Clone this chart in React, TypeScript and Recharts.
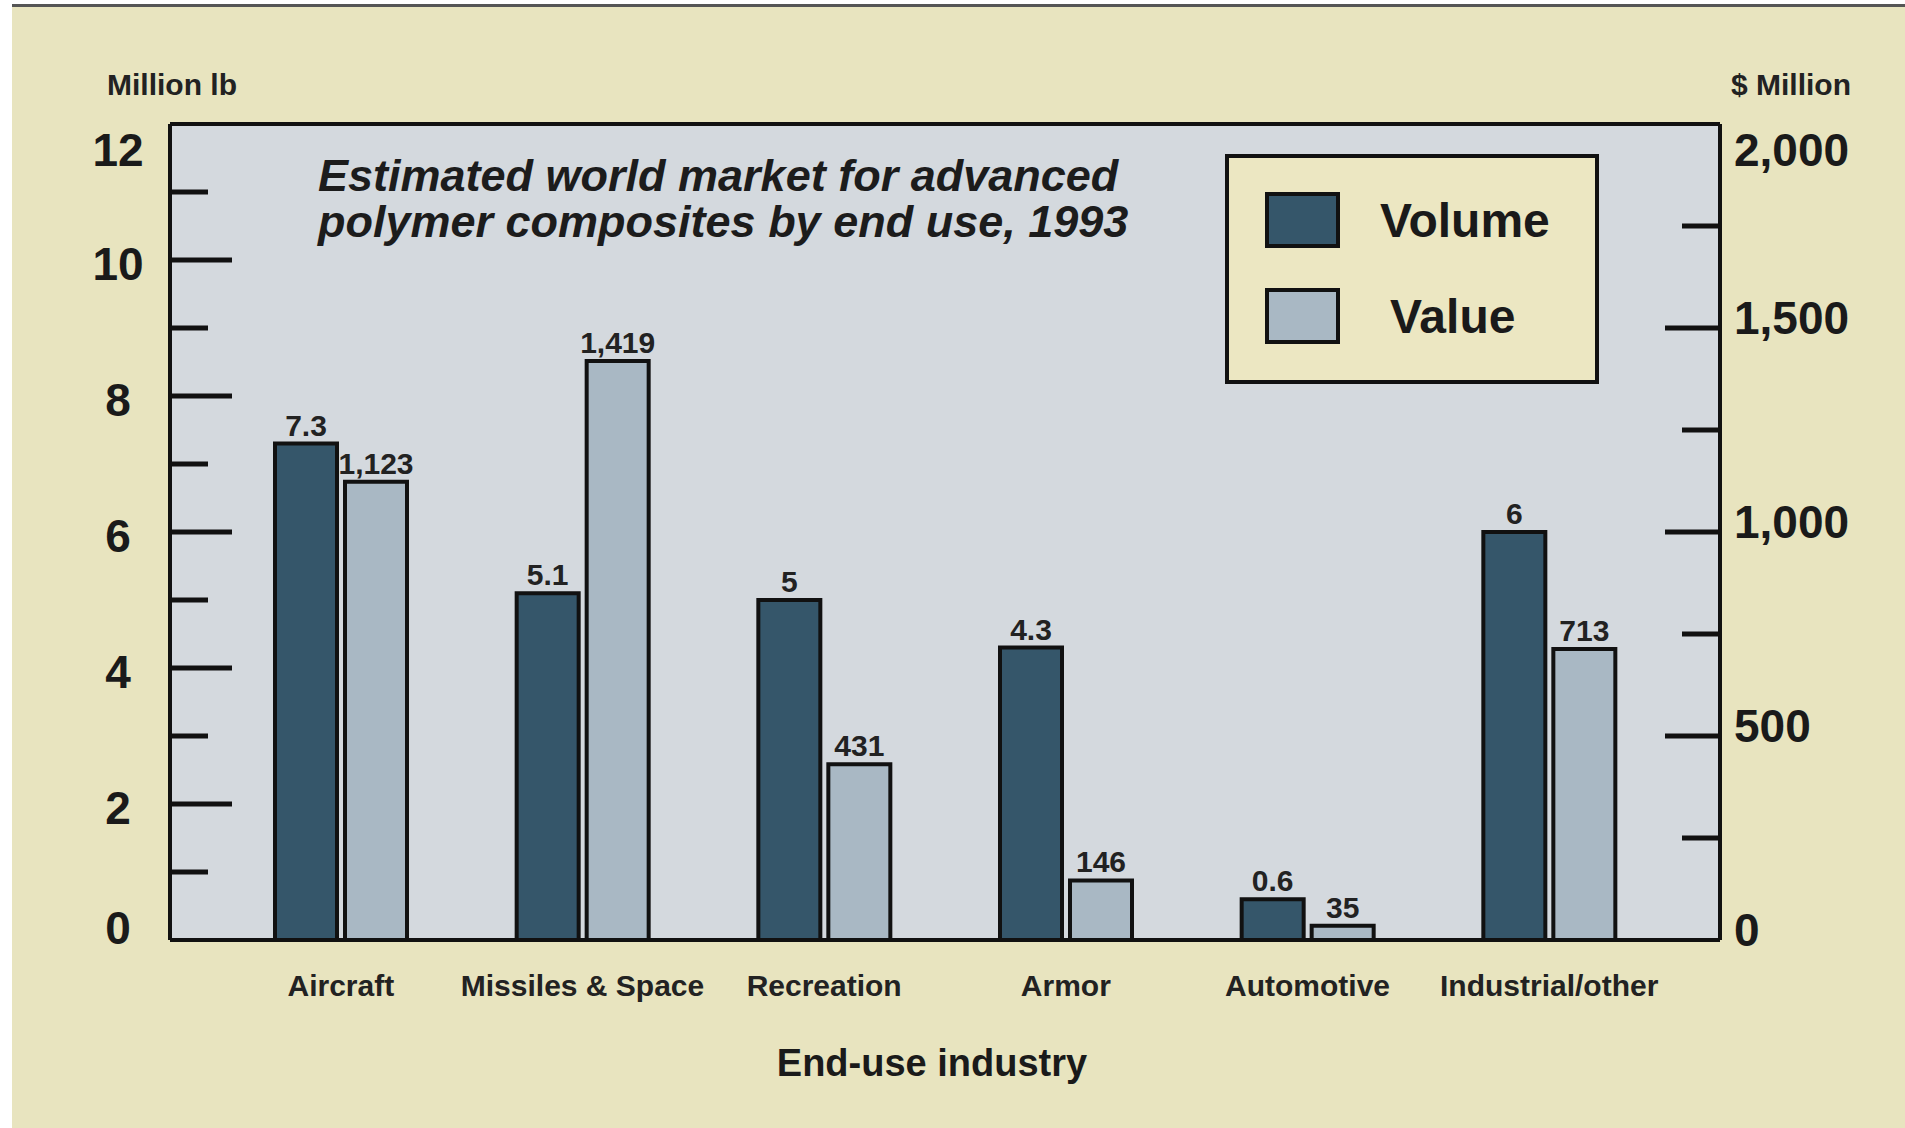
import React from 'react';
import { BarChart, Bar, XAxis, YAxis, CartesianGrid, Legend, LabelList } from 'recharts';

const categories = ['Aircraft', 'Missiles & Space', 'Recreation', 'Armor', 'Automotive', 'Industrial/other'];
const volume = [7.3, 5.1, 5, 4.3, 0.6, 6];
const value = [1123, 1419, 431, 146, 35, 713];
const leftTicks = [0, 1, 2, 3, 4, 5, 6, 7, 8, 9, 10, 11, 12];
const rightTicks = [0, 250, 500, 750, 1000, 1250, 1500, 1750, 2000];
const legendOrder = ['Volume', 'Value'];

const DARK = '#35566a';
const LIGHT = '#a9b8c4';
const PLOT_BG = '#d4d9de';
const CREAM = '#e8e4bf';
const FONT = '"Liberation Sans", Arial, sans-serif';

const data = categories.map((name, i) => ({ name, Volume: volume[i], Value: value[i] }));

const fmt = (v: any) => Number(v).toLocaleString('en-US');

const LeftTick = (props: any) => {
  const { x, y, payload } = props;
  const v = payload.value;
  const major = v % 2 === 0;
  const edge = v === 0 || v === 12;
  let dy = 4;
  if (v === 12) dy = 26;
  if (v === 0) dy = -12;
  return (
    <g>
      {!edge && <line x1={x} x2={x + (major ? 62 : 38)} y1={y} y2={y} stroke="#111" strokeWidth={5} />}
      {major && (
        <text x={x - 52} y={y + dy} textAnchor="middle" dominantBaseline="central"
          fontFamily={FONT} fontWeight="bold" fontSize={46} fill="#1a1a1a">{v}</text>
      )}
    </g>
  );
};

const RightTick = (props: any) => {
  const { x, y, payload } = props;
  const v = payload.value;
  const major = v % 500 === 0;
  const edge = v === 0 || v === 2000;
  let dy = -10;
  if (v === 2000) dy = 26;
  return (
    <g>
      {!edge && <line x1={x} x2={x - (major ? 55 : 38)} y1={y} y2={y} stroke="#111" strokeWidth={5} />}
      {major && (
        <text x={x + 14} y={y + dy} textAnchor="start" dominantBaseline="central"
          fontFamily={FONT} fontWeight="bold" fontSize={46} fill="#1a1a1a">{fmt(v)}</text>
      )}
    </g>
  );
};

const LegendBox = (props: any) => {
  const items = [...(props.payload || [])].sort(
    (a: any, b: any) => legendOrder.indexOf(a.value) - legendOrder.indexOf(b.value)
  );
  return (
    <div style={{ width: 374, height: 230, background: '#ece7c2', border: '4px solid #111', boxSizing: 'border-box', paddingTop: 34, paddingLeft: 36 }}>
      {items.map((it: any, i: number) => (
        <div key={it.value} style={{ display: 'flex', alignItems: 'center', height: 56, marginBottom: i === 0 ? 40 : 0 }}>
          <div style={{ width: 75, height: 56, background: it.color, border: '4px solid #111', boxSizing: 'border-box' }} />
          <span style={{ marginLeft: it.value === 'Value' ? 50 : 40, fontFamily: FONT, fontSize: 48, fontWeight: 'bold', color: '#1a1a1a' }}>{it.value}</span>
        </div>
      ))}
    </div>
  );
};

export default function App() {
  return (
    <div style={{ position: 'absolute', left: 0, top: 0, width: 1905, height: 1128, background: '#fff', overflow: 'hidden' }}>
      <div style={{ position: 'absolute', left: 12, top: 4, width: 1893, height: 1124, background: CREAM, borderTop: '3px solid #555' }} />
      <div style={{ position: 'absolute', left: 107, top: 68, fontFamily: FONT, fontWeight: 'bold', fontSize: 30, color: '#222' }}>Million lb</div>
      <div style={{ position: 'absolute', left: 1731, top: 68, fontFamily: FONT, fontWeight: 'bold', fontSize: 30, color: '#222' }}>$ Million</div>
      <div style={{ position: 'absolute', left: 0, top: 0 }}>
        <BarChart
          width={1905}
          height={1128}
          data={data}
          margin={{ top: 123, right: 10, bottom: 52, left: 10 }}
          barSize={62}
          barGap={8}
          barCategoryGap={0}
        >
          <CartesianGrid yAxisId="left" horizontal={false} vertical={false} fill={PLOT_BG} fillOpacity={1} stroke="none" />
          <XAxis
            dataKey="name"
            height={136}
            padding={{ left: 50, right: 50 }}
            axisLine={{ stroke: '#111', strokeWidth: 4 }}
            tickLine={false}
            tickSize={0}
            tickMargin={35}
            interval={0}
            tick={{ fontFamily: FONT, fontWeight: 'bold', fontSize: 30, fill: '#222' }}
            label={{ value: 'End-use industry', position: 'insideBottom', offset: 0, dx: -13, style: { fontFamily: FONT, fontWeight: 'bold', fontSize: 38, fill: '#1a1a1a' } }}
          />
          <XAxis xAxisId="top" dataKey="name" orientation="top" height={1} tick={false} tickLine={false} axisLine={{ stroke: '#111', strokeWidth: 4 }} />
          <YAxis
            yAxisId="left"
            width={160}
            domain={[0, 12]}
            ticks={leftTicks}
            interval={0}
            tickSize={0}
            tickMargin={0}
            tickLine={false}
            axisLine={{ stroke: '#111', strokeWidth: 4 }}
            tick={<LeftTick />}
          />
          <YAxis
            yAxisId="right"
            orientation="right"
            width={175}
            domain={[0, 2000]}
            ticks={rightTicks}
            interval={0}
            tickSize={0}
            tickMargin={0}
            tickLine={false}
            axisLine={{ stroke: '#111', strokeWidth: 4 }}
            tick={<RightTick />}
          />
          <Legend
            layout="vertical"
            align="center"
            verticalAlign="middle"
            content={<LegendBox />}
            wrapperStyle={{ left: 1225, top: 154, width: 374, height: 230 }}
          />
          <Bar yAxisId="left" dataKey="Volume" fill={DARK} stroke="#111" strokeWidth={4} isAnimationActive={false}>
            <LabelList dataKey="Volume" position="top" offset={8} style={{ fontFamily: FONT, fontWeight: 'bold', fontSize: 30, fill: '#222' }} />
          </Bar>
          <Bar yAxisId="right" dataKey="Value" fill={LIGHT} stroke="#111" strokeWidth={4} isAnimationActive={false}>
            <LabelList dataKey="Value" position="top" offset={8} formatter={fmt} style={{ fontFamily: FONT, fontWeight: 'bold', fontSize: 30, fill: '#222' }} />
          </Bar>
        </BarChart>
      </div>
      <div style={{ position: 'absolute', left: 318, top: 153, fontFamily: FONT, fontWeight: 'bold', fontStyle: 'italic', fontSize: 45, lineHeight: '46px', color: '#1c1c1c' }}>
        Estimated world market for advanced<br />polymer composites by end use, 1993
      </div>
    </div>
  );
}
